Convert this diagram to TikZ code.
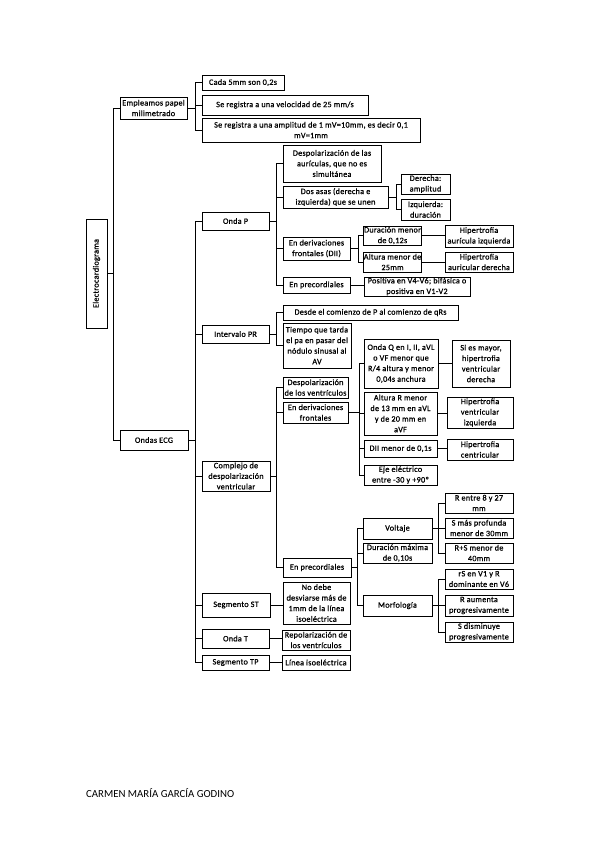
\documentclass[tikz,border=0pt]{standalone}
\usepackage{fontspec}
\setmainfont{Carlito}
\newfontfamily\boxfont[LetterSpace=3,FakeBold=0.8]{Carlito}
\tikzset{
  bx/.style={draw, line width=0.8pt, align=center, inner sep=0.3pt, font=\boxfont\fontsize{8.2}{10.6}\selectfont},
  ln/.style={line width=0.8pt},
}
\newcommand{\mybox}[6]{%
  \node[bx, minimum width={#4-#2}, minimum height={#5-#3}] (#1) at ({(#2+#4)/2},{(#3+#5)/2}) {#6};}
\newcommand{\tree}[3]{\draw[ln] (#1.east) -- ++(#3,0) |- (#2.west);}
\newcommand{\direct}[2]{\draw[ln] (#1.east) -- (#1.east -| #2.west);}
\begin{document}
\begin{tikzpicture}[x=1pt,y=-1pt]
\useasboundingbox[fill=white] (0,0) rectangle (599,848);
% root
\node[bx, minimum width=107-86, minimum height=328-219] (ecg) at ({(86+107)/2},{(219+328)/2}) {\rotatebox{90}{Electrocardiograma}};
\mybox{emp}{120}{97}{187}{119}{Empleamos papel\\milimetrado}
\mybox{cinco}{202}{75}{284}{90}{Cada 5mm son 0,2s}
\mybox{vel}{202}{95}{368}{115}{Se registra a una velocidad de 25 mm/s}
\mybox{amp}{202}{118}{420}{142}{Se registra a una amplitud de 1 mV=10mm, es decir 0,1\\mV=1mm}
\mybox{ondas}{120}{430}{188}{450}{Ondas ECG}
% Onda P
\mybox{ondaP}{202}{212}{269}{230}{Onda P}
\mybox{despA}{283}{145}{381}{182}{Despolarización de las\\aurículas, que no es\\simultánea}
\mybox{dosasas}{283}{186}{388}{208}{Dos asas (derecha e\\izquierda) que se unen}
\mybox{der}{401}{174}{450}{194}{Derecha:\\amplitud}
\mybox{izq}{401}{199}{450}{220}{Izquierda:\\duración}
\mybox{derivP}{283}{237}{350}{260}{En derivaciones\\frontales (DII)}
\mybox{durP}{364}{226}{421}{245}{Duración menor\\de 0,12s}
\mybox{altP}{364}{252}{421}{272}{Altura menor de\\25mm}
\mybox{hai}{445}{225}{513}{247}{Hipertrofia\\aurícula izquierda}
\mybox{had}{445}{252}{513}{272}{Hipertrofia\\auricular derecha}
\mybox{precP}{283}{277}{350}{293}{En precordiales}
\mybox{posit}{364}{277}{470}{296}{Positiva en V4-V6; bifásica o\\positiva en V1-V2}
% Intervalo PR
\mybox{pr}{202}{325}{269}{343}{Intervalo PR}
\mybox{desde}{283}{305}{458}{320}{Desde el comienzo de P al comienzo de qRs}
\mybox{tiempo}{283}{323}{351}{368}{Tiempo que tarda\\el pa en pasar del\\nódulo sinusal al\\AV}
% Complejo
\mybox{compl}{202}{461}{270}{491}{Complejo de\\despolarización\\ventricular}
\mybox{despV}{283}{377}{348}{398}{Despolarización\\de los ventrículos}
\mybox{derivV}{283}{402}{348}{423}{En derivaciones\\frontales}
\mybox{ondaQ}{364}{339}{438}{388}{Onda Q en I, II, aVL\\o VF menor que\\R/4 altura y menor\\0,04s anchura}
\mybox{siesm}{452}{340}{510}{387}{Si es mayor,\\hipertrofia\\ventricular\\derecha}
\mybox{altR}{364}{392}{437}{435}{Altura R menor\\de 13 mm en aVL\\y de 20 mm en\\aVF}
\mybox{hvi}{447}{397}{513}{428}{Hipertrofia\\ventricular\\izquierda}
\mybox{dii}{364}{440}{437}{457}{DII menor de 0,1s}
\mybox{hc}{447}{439}{513}{460}{Hipertrofia\\centricular}
\mybox{eje}{364}{465}{437}{485}{Eje eléctrico\\entre -30 y +90º}
\mybox{precV}{283}{558}{351}{577}{En precordiales}
\mybox{volt}{363}{518}{432}{539}{Voltaje}
\mybox{rent}{445}{493}{513}{513}{R entre 8 y 27\\mm}
\mybox{smas}{445}{518}{513}{538}{S más profunda\\menor de 30mm}
\mybox{rsmen}{445}{543}{513}{563}{R+S menor de\\40mm}
\mybox{durmax}{363}{543}{432}{563}{Duración máxima\\de 0,10s}
\mybox{morf}{363}{595}{432}{616}{Morfología}
\mybox{rsv}{445}{569}{513}{589}{rS en V1 y R\\dominante en V6}
\mybox{raum}{445}{595}{513}{616}{R aumenta\\progresivamente}
\mybox{sdis}{445}{622}{513}{642}{S disminuye\\progresivamente}
% ST, T, TP
\mybox{st}{202}{593}{270}{617}{Segmento ST}
\mybox{nodebe}{283}{582}{350}{624}{No debe\\desviarse más de\\1mm de la línea\\isoeléctrica}
\mybox{ondaT}{202}{629}{269}{648}{Onda T}
\mybox{repol}{282}{630}{350}{650}{Repolarización de\\los ventrículos}
\mybox{tp}{202}{655}{269}{670}{Segmento TP}
\mybox{linea}{282}{655}{350}{670}{Línea isoeléctrica}
% connectors
\foreach \c in {emp,ondas} {\tree{ecg}{\c}{6}}
\foreach \c in {cinco,vel,amp} {\tree{emp}{\c}{8}}
\foreach \c in {ondaP,pr,compl,st,ondaT,tp} {\tree{ondas}{\c}{7}}
\foreach \c in {despA,dosasas,derivP,precP} {\tree{ondaP}{\c}{7}}
\foreach \c in {der,izq} {\tree{dosasas}{\c}{8}}
\foreach \c in {durP,altP} {\tree{derivP}{\c}{8}}
\direct{durP}{hai}
\direct{altP}{had}
\direct{precP}{posit}
\foreach \c in {desde,tiempo} {\tree{pr}{\c}{7}}
\foreach \c in {despV,derivV,precV} {\tree{compl}{\c}{6}}
\foreach \c in {ondaQ,altR,dii,eje} {\tree{derivV}{\c}{11}}
\direct{ondaQ}{siesm}
\direct{altR}{hvi}
\direct{dii}{hc}
\foreach \c in {volt,durmax,morf} {\tree{precV}{\c}{6}}
\foreach \c in {rent,smas,rsmen} {\tree{volt}{\c}{6}}
\foreach \c in {rsv,raum,sdis} {\tree{morf}{\c}{6}}
\direct{st}{nodebe}
\direct{ondaT}{repol}
\direct{tp}{linea}
% footer
\node[anchor=west, inner sep=0pt, font=\fontsize{10.8}{12}\selectfont] (author) at (86,793) {CARMEN MARÍA GARCÍA GODINO};
\end{tikzpicture}
\end{document}
